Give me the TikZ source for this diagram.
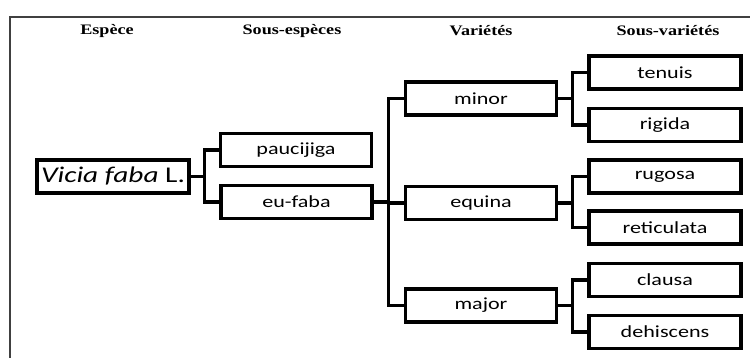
\documentclass[tikz,border=0pt]{standalone}
\usepackage{fontspec}
\usetikzlibrary{calc}
\newfontfamily\boxfont[FakeStretch=1.3]{Carlito}
\newfontfamily\headfont[FakeStretch=1.25]{Liberation Serif}
\begin{document}
\begin{tikzpicture}[x=1pt,y=-1pt,
  box/.style={draw,line width=3.3pt,minimum width=151pt,minimum height=33pt,inner sep=0pt,font=\boxfont\fontsize{17}{20}\selectfont},
  head/.style={font=\headfont\bfseries\fontsize{14.5}{17}\selectfont,inner sep=0pt},
  conn/.style={line width=3.3pt}]
\useasboundingbox (0,0) rectangle (750,358);
\draw[line width=1.5pt,black!75] (10,358) -- (10,17) -- (750,17);
\node[head] (h1) at (107,31) {Espèce};
\node[head] (h2) at (292,31) {Sous-espèces};
\node[head] (h3) at (481,31) {Variétés};
\node[head] (h4) at (668,31) {Sous-variétés};
\node[box,minimum width=152pt,font=\boxfont\fontsize{22.5}{26}\selectfont] (vicia) at (113,176.5) {\itshape Vicia faba\upshape{} L.};
\node[box] (pauci) at (296,150) {paucijiga};
\node[box] (eufaba) at (296.5,202) {eu-faba};
\node[box] (minor) at (481,98.5) {minor};
\node[box] (equina) at (481,203) {equina};
\node[box] (major) at (481,305.5) {major};
\node[box,minimum width=152pt] (tenuis) at (665,72.5) {tenuis};
\node[box,minimum width=152pt] (rigida) at (665,125) {rigida};
\node[box,minimum width=152pt] (rugosa) at (665,176.5) {rugosa};
\node[box,minimum width=152pt] (reticulata) at (665,227.5) {reticulata};
\node[box,minimum width=152pt] (clausa) at (665,280) {clausa};
\node[box,minimum width=152pt] (dehiscens) at (665,332) {dehiscens};
\coordinate (m1) at ($(vicia.east)!.5!(pauci.west)$);
\coordinate (m2) at ($(eufaba.east)!.5!(minor.west)$);
\coordinate (m3) at ($(minor.east)!.5!(tenuis.west)$);
\draw[conn] (pauci.west) -| (m1) |- (eufaba.west);
\draw[conn] (vicia.east) -- (vicia.east -| m1);
\draw[conn] (minor.west) -| (m2) |- (major.west);
\draw[conn] (eufaba.east) -- (eufaba.east -| m2);
\draw[conn] (m2 |- equina.west) -- (equina.west);
\draw[conn] (tenuis.west) -| (m3) |- (rigida.west);
\draw[conn] (minor.east) -- (minor.east -| m3);
\draw[conn] (rugosa.west) -| (m3 |- equina.east) |- (reticulata.west);
\draw[conn] (equina.east) -- (equina.east -| m3);
\draw[conn] (clausa.west) -| (m3 |- major.east) |- (dehiscens.west);
\draw[conn] (major.east) -- (major.east -| m3);
\end{tikzpicture}
\end{document}
